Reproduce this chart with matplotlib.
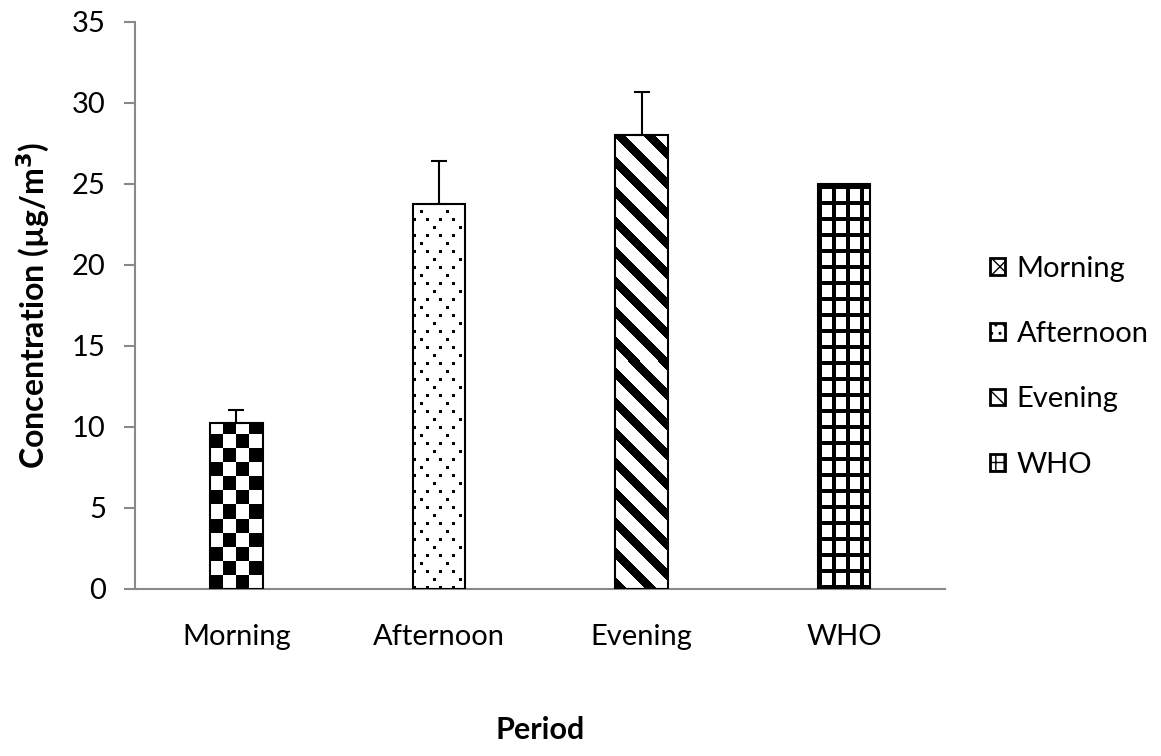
import numpy as np
import matplotlib
matplotlib.use('Agg')
import matplotlib.pyplot as plt
from matplotlib.patches import Patch

periods = ['Morning', 'Afternoon', 'Evening', 'WHO']
concentration = [10.25, 23.75, 28.05, 25.0]
err_upper = [0.8, 2.65, 2.6, 0.0]
y_ticks = [0, 5, 10, 15, 20, 25, 30, 35]

plt.rcParams['font.family'] = ['Lato', 'DejaVu Sans']

GRAY = '#898989'


# fill patterns, in display pixels relative to the bar's lower-left corner
def checker(X, Y):
    return ((X // 13 + Y // 14) % 2) == 0


def dots(X, Y):
    row = Y // 8
    even = (row % 2 == 0) & (X % 13 < 3)
    odd = (row % 2 == 1) & (((X + 6 + (row // 2 % 2) * 13) % 26) < 3)
    return ((Y % 8) < 3) & (even | odd)


def stripes(X, Y):
    return ((X + Y) % 30) < 12


def grid(X, Y):
    return ((Y % 16) < 4) | ((X % 14) < 4)


patterns = [checker, dots, stripes, grid]

fig = plt.figure(figsize=(11.61, 7.56), dpi=100)
ax = fig.add_axes([0.1163, 0.2209, 0.698, 0.75])
x = np.arange(len(periods))

bars = ax.bar(x, concentration, width=0.26, facecolor='none',
              edgecolor='black', linewidth=1.5, zorder=3)
ax.set_xlim(-0.5, len(periods) - 0.5)
ax.set_ylim(0, 35)

# paint each bar with its pattern as a pixel image clipped to the bar
for bar, pat in zip(bars, patterns):
    x0, y0 = bar.get_x(), 0
    x1, y1 = bar.get_x() + bar.get_width(), bar.get_height()
    (px0, py0), (px1, py1) = ax.transData.transform([(x0, y0), (x1, y1)])
    w, h = int(round(px1 - px0)), int(round(py1 - py0))
    Y, X = np.mgrid[0:h, 0:w]
    img = pat(X, Y).astype(float)
    im = ax.imshow(img, extent=(x0, x1, y0, y1), origin='lower', cmap='gray_r',
                   vmin=0, vmax=1, interpolation='nearest', aspect='auto', zorder=2)
    im.set_clip_path(bar)

ax.set_xlim(-0.5, len(periods) - 0.5)
ax.set_ylim(0, 35)

# only the plus direction, skip bars without error
idx = [i for i, e in enumerate(err_upper) if e > 0]
ax.errorbar(x[idx], [concentration[i] for i in idx],
            yerr=[np.zeros(len(idx)), [err_upper[i] for i in idx]],
            fmt='none', ecolor='black', elinewidth=1.5, capsize=5.8,
            capthick=1.5, zorder=4)

ax.set_yticks(y_ticks)
ax.set_xticks(x)
ax.set_xticklabels(periods)
ax.tick_params(axis='y', length=8, width=1.5, color=GRAY, pad=13, labelsize=21)
ax.tick_params(axis='x', length=0, pad=25, labelsize=21)
for side in ['top', 'right']:
    ax.spines[side].set_visible(False)
for side in ['left', 'bottom']:
    ax.spines[side].set_color(GRAY)
    ax.spines[side].set_linewidth(1.5)

fig.text(0.029, 0.596, 'Concentration (µg/m$^{\\mathbf{3}}$)', fontsize=23,
         fontweight='bold', rotation=90, ha='center', va='center')
fig.text(0.465, 0.035, 'Period', fontsize=22, fontweight='bold', ha='center', va='center')

handles = [
    Patch(facecolor='white', edgecolor='black', linewidth=2, hatch='XX', label='Morning'),
    Patch(facecolor='white', edgecolor='black', linewidth=2, hatch='..', label='Afternoon'),
    Patch(facecolor='white', edgecolor='black', linewidth=2, hatch='\\\\', label='Evening'),
    Patch(facecolor='white', edgecolor='black', linewidth=2, hatch='++', label='WHO'),
]
ax.legend(handles=handles, loc='center left', bbox_to_anchor=(0.853, 0.515),
          bbox_transform=fig.transFigure, frameon=False, fontsize=21,
          handlelength=0.5, handleheight=0.5, handletextpad=0.4,
          labelspacing=1.35, borderpad=0, borderaxespad=0)

fig.savefig('out.png', dpi=100)
